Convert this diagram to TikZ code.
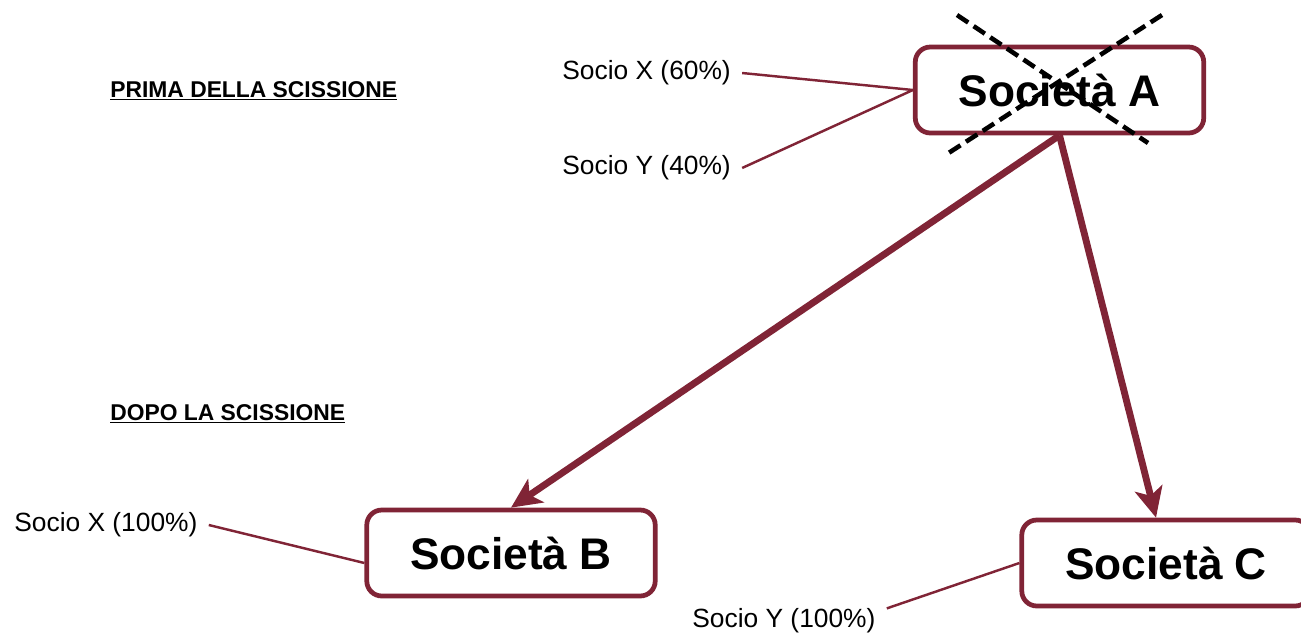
\documentclass[tikz,border=0pt]{standalone}
\usepackage{fontspec}
\setmainfont{Liberation Sans}
\usepackage{xcolor}
\usetikzlibrary{arrows.meta,positioning}
\definecolor{wine}{RGB}{128,36,54}

\begin{document}
\begin{tikzpicture}[
  x=0.02cm, y=-0.02cm,
  box/.style={draw=wine, line width=2.7pt, rounded corners=0.3cm, fill=white,
              minimum width=5.77cm, minimum height=1.72cm, inner sep=0pt,
              font=\fontsize{25.2}{30}\selectfont\bfseries},
  owner/.style={anchor=west, inner ysep=0pt, inner xsep=0.22cm,
                font=\fontsize{15}{18}\selectfont},
  phase/.style={anchor=west, inner sep=0pt,
                font=\fontsize{13}{15}\selectfont\bfseries},
  link/.style={draw=wine, line width=1.4pt},
  arr/.style={draw=wine, line width=3.9pt,
              -{Stealth[length=0.6cm, width=0.56cm, inset=0.15cm]}},
  cross/.style={line width=2.6pt, dash pattern=on 0.27cm off 0.13cm},
]
\clip (0,0) rectangle (1301,633);

% headings
\node[phase] (prima) at (110,91) {\underline{PRIMA DELLA SCISSIONE}};
\node[phase] (dopo) at (110,414) {\underline{DOPO LA SCISSIONE}};

% companies
\node[box] (socA) at (1059.5,90) {Società A};
\node[box] (socB) at (511,553) {Società B};
\node[box] (socC) at (1166,563) {Società C};

% shareholders before
\node[owner] (sxA) at (551,73) {Socio X (60\%)};
\node[owner, below=1.9cm of sxA.west, anchor=west] (syA) {Socio Y (40\%)};
\draw[link] (sxA.east) -- (socA.west);
\draw[link] (syA.east) -- (socA.west);

% shareholders after
\node[owner] (sxB) at (3,525) {Socio X (100\%)};
\node[owner] (syC) at (681,621) {Socio Y (100\%)};
\draw[link] (sxB.east) -- ([yshift=-0.2cm]socB.west);
\draw[link] (syC.north east) -- (socC.west);

% split
\draw[arr] (socA.south) -- (socB.north);
\draw[arr] (socA.south) -- ([xshift=-0.2cm]socC.north);

% A no longer exists
\coordinate (xa1) at (957,15);
\coordinate (xa2) at (1148,143);
\coordinate (xb1) at (1162,15);
\coordinate (xb2) at (947,154);
\draw[cross] (xa1) -- (xa2);
\draw[cross] (xb1) -- (xb2);
\end{tikzpicture}
\end{document}
